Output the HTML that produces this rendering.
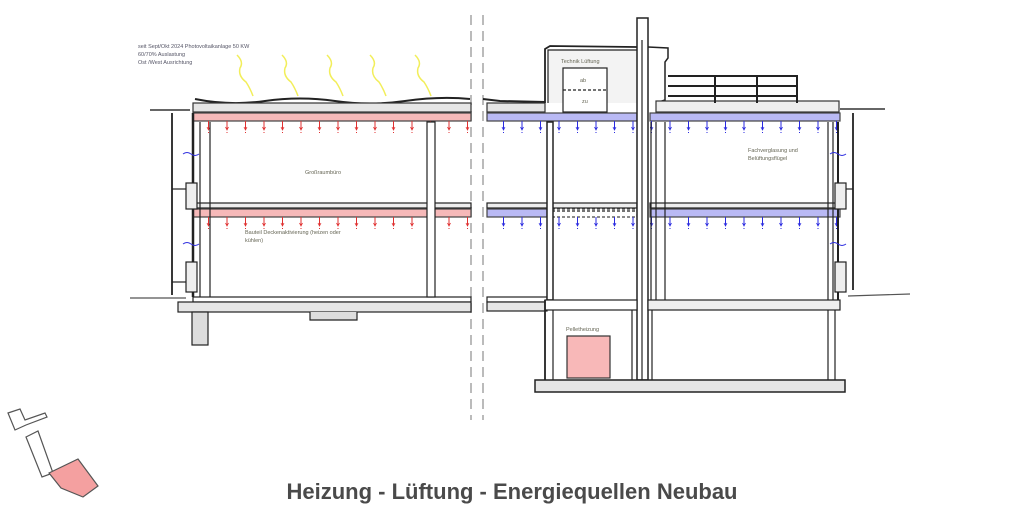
<!DOCTYPE html>
<html><head><meta charset="utf-8"><style>
html,body{margin:0;padding:0;background:#fff;}
svg{display:block}
text{font-family:"Liberation Sans",sans-serif;}
</style></head><body>
<svg width="1024" height="517" viewBox="0 0 1024 517" xmlns="http://www.w3.org/2000/svg">
<defs>
<pattern id="rt" x="3" y="0" width="18.5" height="12" patternUnits="userSpaceOnUse">
<line x1="2" y1="0" x2="2" y2="10" stroke="#e03030" stroke-width="1"/><path d="M0.5 7 L2 10 L3.5 7" fill="none" stroke="#e03030" stroke-width="0.8"/>
</pattern>
<pattern id="bt" x="2" y="0" width="18.5" height="12" patternUnits="userSpaceOnUse">
<line x1="2" y1="0" x2="2" y2="10" stroke="#2a2ae0" stroke-width="1"/><path d="M0.5 7 L2 10 L3.5 7" fill="none" stroke="#2a2ae0" stroke-width="0.8"/>
</pattern>
</defs>
<g fill="none" stroke="#222" stroke-width="1.2">
<line x1="471" y1="15" x2="471" y2="420" stroke="#bbb" stroke-width="2" stroke-dasharray="10,6"/>
<line x1="483" y1="15" x2="483" y2="420" stroke="#bbb" stroke-width="2" stroke-dasharray="10,6"/>

<path d="M195 99 Q230 106 265 101 T335 101 T405 101 T470 99" stroke-width="2"/>
<rect x="193" y="103" width="278" height="9" fill="#e6e6e6" stroke="#333"/>
<rect x="193" y="113" width="278" height="8" fill="#f6b9b9" stroke="#444"/>
<rect x="193" y="121" width="278" height="12" fill="url(#rt)" stroke="none"/>
<line x1="150" y1="110" x2="190" y2="110" stroke-width="2" stroke="#666"/>
<rect x="193" y="203" width="278" height="5" fill="#eee"/>
<rect x="193" y="209" width="278" height="8" fill="#f6b9b9" stroke="#444"/>
<rect x="193" y="217" width="278" height="12" fill="url(#rt)" stroke="none"/>
<rect x="193" y="297" width="278" height="5" fill="#fff"/>
<rect x="178" y="302" width="293" height="10" fill="#e6e6e6"/>
<path d="M310 312 L310 320 L357 320 L357 312" fill="#ddd"/>
<rect x="192" y="312" width="16" height="33" fill="#ddd"/>
<line x1="172" y1="113" x2="172" y2="295" stroke-width="1.8"/>
<line x1="193" y1="113" x2="193" y2="297" stroke-width="2.5"/>
<line x1="200" y1="122" x2="200" y2="297"/>
<line x1="210" y1="122" x2="210" y2="297"/>
<rect x="186" y="183" width="11" height="26" fill="#eee"/>
<rect x="186" y="262" width="11" height="30" fill="#eee"/>
<line x1="172" y1="189" x2="186" y2="189"/><line x1="172" y1="282" x2="186" y2="282"/>
<line x1="130" y1="298" x2="186" y2="298" stroke="#555"/>
<rect x="427" y="122" width="8" height="175" fill="#fff"/>

<path d="M483 99 L500 101 L545 102" stroke-width="2"/>
<rect x="487" y="103" width="58" height="9" fill="#e6e6e6" stroke="#333"/>
<rect x="487" y="113" width="150" height="8" fill="#b9b9f4" stroke="#444"/>
<rect x="487" y="121" width="150" height="12" fill="url(#bt)" stroke="none"/>
<rect x="650" y="113" width="190" height="8" fill="#b9b9f4" stroke="#444"/>
<rect x="650" y="121" width="190" height="12" fill="url(#bt)" stroke="none"/>
<rect x="487" y="203" width="150" height="5" fill="#eee"/>
<rect x="487" y="209" width="60" height="8" fill="#b9b9f4" stroke="#444"/>
<rect x="552" y="209" width="85" height="8" fill="none" stroke="#444" stroke-dasharray="3,2"/>
<line x1="552" y1="211" x2="637" y2="211" stroke-dasharray="3,2"/>
<rect x="487" y="217" width="150" height="12" fill="url(#bt)" stroke="none"/>
<rect x="650" y="203" width="190" height="5" fill="#eee"/>
<rect x="650" y="209" width="190" height="8" fill="#b9b9f4" stroke="#444"/>
<rect x="650" y="217" width="190" height="12" fill="url(#bt)" stroke="none"/>
<rect x="487" y="297" width="60" height="5" fill="#fff"/>
<rect x="487" y="302" width="60" height="9" fill="#e6e6e6"/>
<path d="M545 103 L545 49 L550 46 L637 47" stroke-width="1.8"/>
<rect x="548" y="50" width="89" height="53" fill="#f3f3f3" stroke="none"/>
<path d="M548 103 L548 50 L637 50"/>
<rect x="563" y="68" width="44" height="44" fill="#fff"/>
<line x1="563" y1="90" x2="607" y2="90" stroke-dasharray="3,2"/>
<rect x="637" y="18" width="11" height="362" fill="#fff" stroke-width="1.5"/>
<line x1="642" y1="40" x2="642" y2="380"/>
<path d="M648 47 L668 48 L668 58 L665 62 L665 100 L656 103" stroke-width="1.5"/>
<rect x="656" y="101" width="183" height="11" fill="#eee" stroke="#333"/>
<line x1="840" y1="109" x2="885" y2="109" stroke-width="2" stroke="#666"/>
<g stroke-width="2"><line x1="668" y1="76" x2="798" y2="76"/><line x1="668" y1="86" x2="798" y2="86"/><line x1="668" y1="96" x2="798" y2="96"/>
<line x1="715" y1="76" x2="715" y2="103"/><line x1="757" y1="76" x2="757" y2="103"/><line x1="797" y1="76" x2="797" y2="103"/></g>
<rect x="547" y="122" width="6" height="178" fill="#fff" stroke-width="1.5"/>
<line x1="651" y1="122" x2="651" y2="300"/><line x1="656" y1="122" x2="656" y2="300"/>
<line x1="665" y1="122" x2="665" y2="300"/>
<line x1="828" y1="122" x2="828" y2="300"/><line x1="833" y1="122" x2="833" y2="300"/>
<line x1="838" y1="122" x2="838" y2="300" stroke-width="2"/>
<line x1="853" y1="113" x2="853" y2="290" stroke-width="1.8"/>
<rect x="835" y="183" width="11" height="26" fill="#eee"/>
<rect x="835" y="262" width="11" height="30" fill="#eee"/>
<line x1="846" y1="189" x2="853" y2="189"/>
<line x1="848" y1="296" x2="910" y2="294" stroke="#555"/>
<rect x="545" y="300" width="92" height="10" fill="#fff"/>
<rect x="648" y="300" width="192" height="10" fill="#eee"/>
<line x1="545" y1="300" x2="545" y2="382" stroke-width="1.8"/>
<line x1="553" y1="310" x2="553" y2="382"/>
<line x1="632" y1="310" x2="632" y2="382"/>
<line x1="652" y1="310" x2="652" y2="382"/>
<line x1="828" y1="310" x2="828" y2="382"/><line x1="835" y1="310" x2="835" y2="382"/>
<rect x="535" y="380" width="310" height="12" fill="#e6e6e6" stroke-width="1.5"/>
<rect x="567" y="336" width="43" height="42" fill="#f8b8b8" stroke="#333"/>
</g>
<g fill="none" stroke="#f2ee5a" stroke-width="1.5">
<path d="M237 55 Q244 62 240 68 Q238 76 246 82 Q250 88 253 96"/>
<path d="M282 55 Q289 62 285 68 Q283 76 291 82 Q295 88 298 96"/>
<path d="M327 55 Q334 62 330 68 Q328 76 336 82 Q340 88 343 96"/>
<path d="M370 55 Q377 62 373 68 Q371 76 379 82 Q383 88 386 96"/>
<path d="M415 55 Q422 62 418 68 Q416 76 424 82 Q428 88 431 96"/>
</g>
<g fill="none" stroke="#3030e0" stroke-width="1">
<path d="M183 154 q4 -3 8 0 q4 3 8 0"/><path d="M183 244 q4 -3 8 0 q4 3 8 0"/>
<path d="M830 154 q4 -3 8 0 q4 3 8 0"/><path d="M830 244 q4 -3 8 0 q4 3 8 0"/>
</g>
<g font-size="5.5" fill="#556">
<text x="138" y="48">seit Sept/Okt 2024 Photovoltaikanlage 50 KW</text>
<text x="138" y="56">60/70% Auslastung</text>
<text x="138" y="64">Ost /West Ausrichtung</text>
<text x="305" y="174" fill="#665">Großraumbüro</text>
<text x="245" y="234" fill="#665">Bauteil Deckenaktivierung (heizen oder</text>
<text x="245" y="242" fill="#665">kühlen)</text>
<text x="561" y="63" fill="#665">Technik Lüftung</text>
<text x="580" y="82" fill="#665">ab</text>
<text x="582" y="103" fill="#665">zu</text>
<text x="748" y="152" fill="#665">Fachverglasung und</text>
<text x="748" y="160" fill="#665">Belüftungsflügel</text>
<text x="566" y="331" fill="#665">Pelletheizung</text>
</g>
<g stroke="#555" stroke-width="1.2">
<path d="M8 413 L20 409 L25 420 L45 413 L47 417 L26 425 L15 430 Z" fill="#fff"/>
<path d="M26 437 L38 431 L53 473 L42 477 Z" fill="#fff"/>
<path d="M49 473 L78 459 L98 486 L83 497 L61 488 Z" fill="#f4a0a0"/>
</g>
<text x="512" y="499" text-anchor="middle" font-size="22" font-weight="bold" fill="#4a4a4a">Heizung - Lüftung - Energiequellen Neubau</text>
</svg>
</body></html>
